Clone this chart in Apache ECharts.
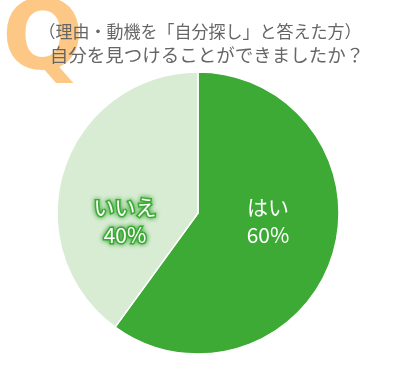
<!DOCTYPE html>
<html><head><meta charset="utf-8">
<script src="https://cdn.jsdelivr.net/npm/echarts@6/dist/echarts.min.js"></script>
<style>html,body{margin:0;padding:0;background:#fff;}#c{width:400px;height:370px;}</style>
</head><body><div id="c"></div>
<script>
const categories = ['はい', 'いいえ'];
const values = [60, 40];
const titleLines = ['（理由・動機を「自分探し」と答えた方）', '自分を見つけることができましたか？'];
const sliceColors = ['#3caa35', '#d8ecd4'];

const chart = echarts.init(document.getElementById('c'), null, {renderer: 'canvas'});
const font = '"Noto Sans CJK JP", "Noto Sans", sans-serif';
chart.setOption({
  animation: false,
  graphic: [
    {type: 'text', x: 2, y: -4, z: 0,
     style: {text: 'Q', font: 'bold 96px "DejaVu Sans", sans-serif', fill: '#fdc886', textVerticalAlign: 'top'}},
    {type: 'text', x: 200, y: 32, z: 10,
     style: {text: titleLines[0], font: '17px ' + font, fill: '#666', align: 'center', verticalAlign: 'middle'}},
    {type: 'text', x: 207, y: 55, z: 10,
     style: {text: titleLines[1], font: '18.5px ' + font, fill: '#666', align: 'center', verticalAlign: 'middle'}}
  ],
  series: [{
    type: 'pie',
    center: [198, 213],
    radius: [0, 141],
    startAngle: 90,
    clockwise: true,
    silent: true,
    itemStyle: {borderColor: '#fff', borderWidth: 1.5},
    label: {
      position: 'inside',
      formatter: p => p.name + '\n' + p.value + '%',
      fontFamily: font, fontSize: 21, lineHeight: 28, color: '#fff', align: 'center'
    },
    labelLine: {show: false},
    labelLayout: p => ({x: p.dataIndex === 0 ? 268 : 125, y: 221, align: 'center', verticalAlign: 'middle'}),
    data: categories.map((c, i) => ({
      name: c, value: values[i],
      itemStyle: {color: sliceColors[i]},
      label: i === 1 ? {textBorderColor: '#3caa35', textBorderWidth: 3, textShadowColor: '#3caa35', textShadowBlur: 5} : {}
    }))
  }]
});
</script></body></html>
